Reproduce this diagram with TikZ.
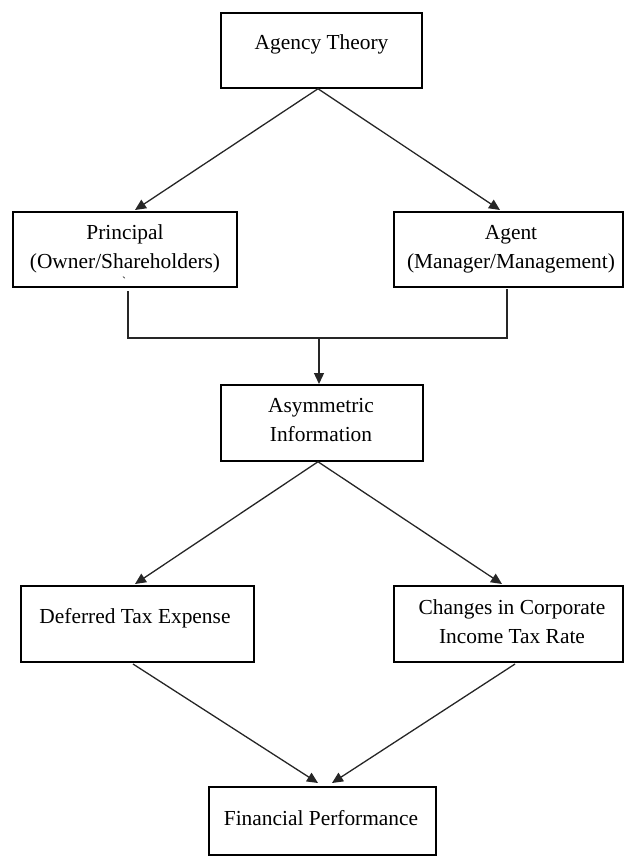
\documentclass[tikz,border=0pt]{standalone}
\usepackage{fontspec}
\setmainfont{Liberation Serif}
\usetikzlibrary{arrows.meta}
\begin{document}
\begin{tikzpicture}[x=1pt,y=-1pt,
  box/.style={draw=black,line width=1.5pt,rectangle,inner sep=0pt},
  txt/.style={inner sep=0pt,align=center,font=\fontsize{21.4}{29}\selectfont},
  conn/.style={line width=1.3pt,draw=black!85},
  arr/.style={conn,-{Triangle[length=11pt,width=10pt]}}]
\useasboundingbox (0,0) rectangle (624,856);
% boxes
\node[box,minimum width=201pt,minimum height=75pt] (agency) at (321.5,50.5) {};
\node[box,minimum width=224pt,minimum height=75pt] (principal) at (125,249.5) {};
\node[box,minimum width=229pt,minimum height=75pt] (agent) at (508.5,249.5) {};
\node[box,minimum width=202pt,minimum height=76pt] (asym) at (322,423) {};
\node[box,minimum width=233pt,minimum height=76pt] (deferred) at (137.5,624) {};
\node[box,minimum width=229pt,minimum height=76pt] (changes) at (508.5,624) {};
\node[box,minimum width=227pt,minimum height=68pt] (financial) at (322.5,821) {};
% texts
\node[txt] (tagency) at (321.5,44) {Agency Theory};
\node[txt] (tprincipal) at (125,249) {Principal\\(Owner/Shareholders)};
\node[txt,font=\fontsize{12}{12}\selectfont] (ttick) at (124,281) {\textasciigrave};
\node[txt] (tagent) at (511,249) {Agent\\(Manager/Management)};
\node[txt] (tasym) at (321,420) {Asymmetric\\Information};
\node[txt] (tdeferred) at (135,618) {Deferred Tax Expense};
\node[txt] (tchanges) at (512,622) {Changes in Corporate\\Income Tax Rate};
\node[txt] (tfinancial) at (321,818) {Financial Performance};
% coordinates
\coordinate (a0) at ([xshift=-3.5pt]agency.south);
\coordinate (pin) at (135,210);
\coordinate (ain) at (500,210);
\coordinate (pout) at (128,291);
\coordinate (aout) at (507,289);
\coordinate (joinL) at (128,338);
\coordinate (joinR) at (507,338);
\coordinate (joinM) at (319,338);
\coordinate (asymin) at (319,384);
\coordinate (s0) at ([xshift=-4pt]asym.south);
\coordinate (din) at (135,584);
\coordinate (cin) at (502,584);
\coordinate (dout) at (133,664);
\coordinate (cout) at (515,664);
\coordinate (fin1) at (318,783);
\coordinate (fin2) at (332,783);
% connectors
\draw[arr] (a0) -- (pin);
\draw[arr] (a0) -- (ain);
\draw[conn] (pout) -- (joinL) -- (joinR) -- (aout);
\draw[arr] (joinM) -- (asymin);
\draw[arr] (s0) -- (din);
\draw[arr] (s0) -- (cin);
\draw[arr] (dout) -- (fin1);
\draw[arr] (cout) -- (fin2);
\end{tikzpicture}
\end{document}
